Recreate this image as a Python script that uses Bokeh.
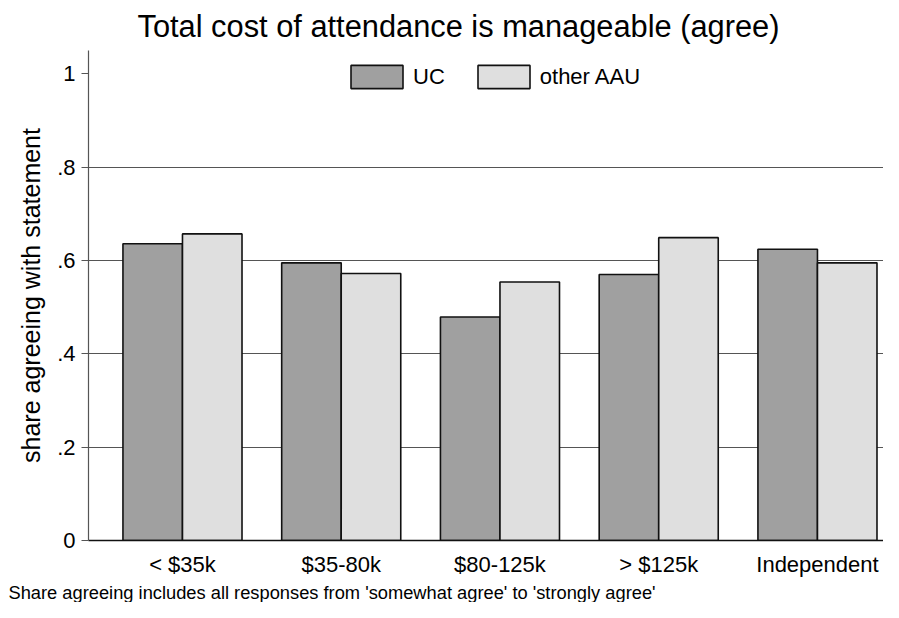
from bokeh.plotting import figure
from bokeh.models import ColumnDataSource, FixedTicker, Legend, LegendItem, Title
from bokeh.embed import file_html
from bokeh.resources import INLINE

categories = ["< $35k", "$35-80k", "$80-125k", "> $125k", "Independent"]
uc_values = [0.636, 0.595, 0.479, 0.570, 0.624]
aau_values = [0.657, 0.572, 0.554, 0.649, 0.595]
series_names = ["UC", "other AAU"]
y_ticks = [0, 0.2, 0.4, 0.6, 0.8, 1.0]
y_tick_labels = ["0", ".2", ".4", ".6", ".8", "1"]
note = "Share agreeing includes all responses from 'somewhat agree' to 'strongly agree'"

FONT = "Liberation Sans"
BAR_W = 0.375
idx = list(range(len(categories)))

src_uc = ColumnDataSource(dict(x=[i - BAR_W / 2 for i in idx], top=uc_values))
src_aau = ColumnDataSource(dict(x=[i + BAR_W / 2 for i in idx], top=aau_values))

p = figure(width=883, height=602, output_backend="svg", toolbar_location=None,
           x_range=(-0.592, 4.416), y_range=(0, 1.05),
           min_border_left=88, min_border_right=0, min_border_top=50, min_border_bottom=20)

p.title.text = "Total cost of attendance is manageable (agree)"
p.title.text_font = FONT
p.title.text_font_size = "30.8px"
p.title.text_font_style = "normal"
p.title.align = "left"
p.title.offset = 49
p.title.standoff = 13
p.title.text_color = "black"

p.outline_line_color = None
p.background_fill_color = "white"
p.border_fill_color = "white"

r1 = p.vbar(x="x", top="top", width=BAR_W, source=src_uc, fill_color="#a0a0a0",
            line_color="#111111", line_width=1.6)
r2 = p.vbar(x="x", top="top", width=BAR_W, source=src_aau, fill_color="#dfdfdf",
            line_color="#111111", line_width=1.6)

# y axis
p.yaxis.ticker = FixedTicker(ticks=y_ticks)
p.yaxis.major_label_overrides = {t: l for t, l in zip(y_ticks, y_tick_labels)}
p.yaxis.major_label_text_font = FONT
p.yaxis.major_label_text_font_size = "22px"
p.yaxis.major_label_text_color = "black"
p.yaxis.major_label_orientation = 0
p.yaxis.major_label_standoff = 6
p.yaxis.axis_line_color = "#555555"
p.yaxis.axis_line_width = 1.2
p.yaxis.major_tick_line_color = "#555555"
p.yaxis.major_tick_out = 7
p.yaxis.major_tick_in = 0
p.yaxis.minor_tick_line_color = None
p.yaxis.axis_label = "share agreeing with statement"
p.yaxis.axis_label_text_font = FONT
p.yaxis.axis_label_text_font_size = "25px"
p.yaxis.axis_label_text_font_style = "normal"
p.yaxis.axis_label_text_color = "black"
p.yaxis.axis_label_standoff = 9

# x axis
p.xaxis.ticker = FixedTicker(ticks=idx)
p.xaxis.major_label_overrides = {i: c for i, c in zip(idx, categories)}
p.xaxis.major_label_text_font = FONT
p.xaxis.major_label_text_font_size = "22px"
p.xaxis.major_label_text_color = "black"
p.xaxis.axis_line_color = "#111111"
p.xaxis.axis_line_width = 1.6
p.xaxis.major_tick_line_color = None
p.xaxis.minor_tick_line_color = None
p.xaxis.major_label_standoff = 5

# grid
p.xgrid.grid_line_color = None
p.ygrid.ticker = FixedTicker(ticks=[0.2, 0.4, 0.6, 0.8])
p.ygrid.grid_line_color = "#555555"
p.ygrid.grid_line_width = 1.2
p.ygrid.level = "underlay"

legend = Legend(items=[LegendItem(label=series_names[0], renderers=[r1]),
                       LegendItem(label=series_names[1], renderers=[r2])],
                orientation="horizontal", location=(256, 449),
                glyph_width=65, glyph_height=29,
                label_text_font=FONT, label_text_font_size="22px",
                label_text_color="black",
                label_standoff=4, spacing=26, margin=0, padding=0,
                background_fill_alpha=0, border_line_alpha=0)
p.add_layout(legend, "center")

foot = Title(text=note, text_font=FONT, text_font_size="18.3px", text_font_style="normal",
             align="left", offset=-80, standoff=0, text_color="black")
p.add_layout(foot, "below")

open("out.html", "w").write(file_html(p, INLINE))
